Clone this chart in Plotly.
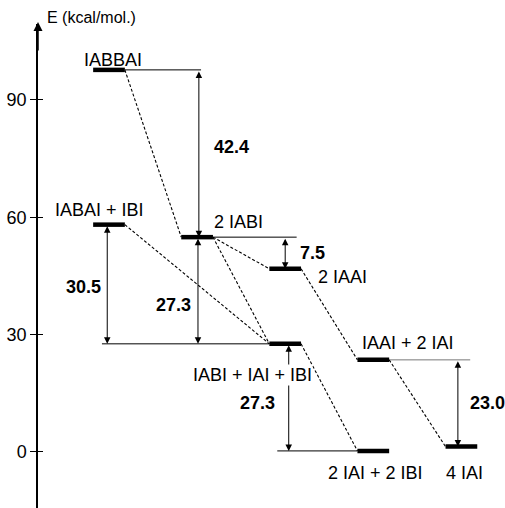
import plotly.graph_objects as go

# ---- data ----
states = ["IABBAI", "IABAI + IBI", "2 IABI", "2 IAAI", "IABI + IAI + IBI",
          "IAAI + 2 IAI", "2 IAI + 2 IBI", "4 IAI"]
energies = [97.7, 58.1, 54.9, 46.8, 27.6, 23.5, 0.2, 1.3]
columns = [0, 0, 1, 2, 2, 3, 3, 4]
links = [(0, 2), (1, 4), (2, 3), (2, 4), (4, 6), (3, 5), (5, 7)]
gap_labels = ["42.4", "30.5", "27.3", "7.5", "27.3", "23.0"]
gap_pairs = [(0, 2), (1, 4), (2, 4), (2, 3), (4, 6), (5, 7)]
tick_values = [0, 30, 60, 90]
axis_title = "E (kcal/mol.)"

# ---- layout geometry ----
W, H = 505, 508
ML, MT = 38, 24
PX_PER_COL = 88.1
COL0_PX = 109
PX_PER_E = 3.908
E0_PX = 451.7
x_range = [(ML - COL0_PX) / PX_PER_COL, (W - COL0_PX) / PX_PER_COL]
y_range = [-(H - E0_PX) / PX_PER_E, (E0_PX - MT) / PX_PER_E]
half_w = 0.18
FONT = "Liberation Sans, Arial, Helvetica, sans-serif"
LABEL_SIZE = 18
NUM_SIZE = 18

# arrow x (column units) per gap
arrow_x = [1.02, -0.02, 1.01, 2.0, 2.04, 3.96]
# thin reference line extents (column units) for some levels
ref_ext = {0: 1.045, 4: -0.08, 2: 2.13, 6: 1.91, 5: 4.10}
ref_color = {5: "#777777"}
# label placement: (dx px from column center, yshift px, xanchor)
label_pos = [(3.5, 10, "center"), (-9.5, 15, "center"), (16, 15.5, "left"),
             (32, -8, "left"), (-33, -31, "center"), (-12.5, 17, "left"),
             (2.5, -22, "center"), (3.5, -26, "center")]
# gap label placement: (dx px from arrow, yshift px, xanchor)
gap_pos = [(13, 6.5, "left"), (-4, -3, "right"), (-5, -14.5, "right"),
           (13, 0, "left"), (-12, -5.6, "right"), (10, 0, "left")]

fig = go.Figure()

# thin reference lines
for i, xe in ref_ext.items():
    c = columns[i]
    x0 = c + half_w if xe > c else c - half_w
    fig.add_trace(go.Scatter(x=[x0, xe], y=[energies[i], energies[i]], mode="lines",
                             line=dict(color=ref_color.get(i, "black"), width=1),
                             hoverinfo="skip", showlegend=False))

# dashed connections
for a, b in links:
    fig.add_trace(go.Scatter(x=[columns[a] + half_w, columns[b] - half_w],
                             y=[energies[a], energies[b]], mode="lines",
                             line=dict(color="black", width=1.1, dash="3px,2px"),
                             hoverinfo="skip", showlegend=False))

# thick levels
bx, by = [], []
for c, e in zip(columns, energies):
    bx += [c - half_w, c + half_w, None]
    by += [e, e, None]
fig.add_trace(go.Scatter(x=bx, y=by, mode="lines", line=dict(color="black", width=4.5),
                         hoverinfo="skip", showlegend=False))

# invisible trace for second y axis (inside ticks)
fig.add_trace(go.Scatter(x=[None], y=[None], yaxis="y2", showlegend=False))

ann = []
# double-headed arrows
for (a, b), xa in zip(gap_pairs, arrow_x):
    ann.append(dict(x=xa, y=energies[b], ax=xa, ay=energies[a], xref="x", yref="y",
                    axref="x", ayref="y", text="", showarrow=True,
                    arrowhead=2, startarrowhead=2, arrowside="end+start",
                    arrowsize=1.3, startarrowsize=1.3, arrowwidth=1, arrowcolor="black",
                    standoff=0, startstandoff=0))

# axis arrow head (paper coordinates)
plot_h = H - MT
ann.append(dict(x=0, y=1 + 2 / plot_h, xref="paper", yref="paper",
                ax=0, ay=30, axref="pixel", ayref="pixel", text="", showarrow=True,
                arrowhead=2, arrowsize=1.2, arrowwidth=1.5, arrowcolor="black", standoff=0))
ann.append(dict(x=7 / (W - ML), y=1 + 6 / plot_h, xref="paper", yref="paper",
                text=axis_title, showarrow=False, xanchor="left", yanchor="middle",
                font=dict(family=FONT, size=16, color="black")))

# state labels
for i, (dx, ys, xa) in enumerate(label_pos):
    ann.append(dict(x=columns[i] + dx / PX_PER_COL, y=energies[i], xref="x", yref="y",
                    text=states[i], showarrow=False, xanchor=xa, yanchor="middle",
                    yshift=ys, bgcolor="white" if i == 4 else None, borderpad=0,
                    font=dict(family=FONT, size=LABEL_SIZE, color="black")))

# gap labels
for (a, b), xa, lab, (dx, ys, anc) in zip(gap_pairs, arrow_x, gap_labels, gap_pos):
    ann.append(dict(x=xa + dx / PX_PER_COL, y=(energies[a] + energies[b]) / 2,
                    xref="x", yref="y", text="<b>" + lab + "</b>", showarrow=False,
                    xanchor=anc, yanchor="middle", yshift=ys,
                    font=dict(family=FONT, size=NUM_SIZE, color="black")))

fig.update_layout(
    width=W, height=H, margin=dict(l=ML, r=0, t=MT, b=0, pad=0),
    plot_bgcolor="white", paper_bgcolor="white", showlegend=False,
    xaxis=dict(range=x_range, visible=False, fixedrange=True),
    yaxis=dict(range=y_range, showgrid=False, zeroline=False, showline=True,
               linecolor="black", linewidth=1.5, ticks="outside", ticklen=6,
               tickwidth=1, tickcolor="black", tickvals=tick_values,
               tickfont=dict(family=FONT, size=18, color="black"), fixedrange=True),
    yaxis2=dict(range=y_range, overlaying="y", side="left", showgrid=False,
                zeroline=False, showline=False, ticks="inside", ticklen=5,
                tickwidth=1, tickcolor="black", tickvals=tick_values,
                showticklabels=False, fixedrange=True),
    annotations=ann,
)

fig.write_html("out.html", config={"displayModeBar": False},
               post_script="document.body.style.margin='0';")
